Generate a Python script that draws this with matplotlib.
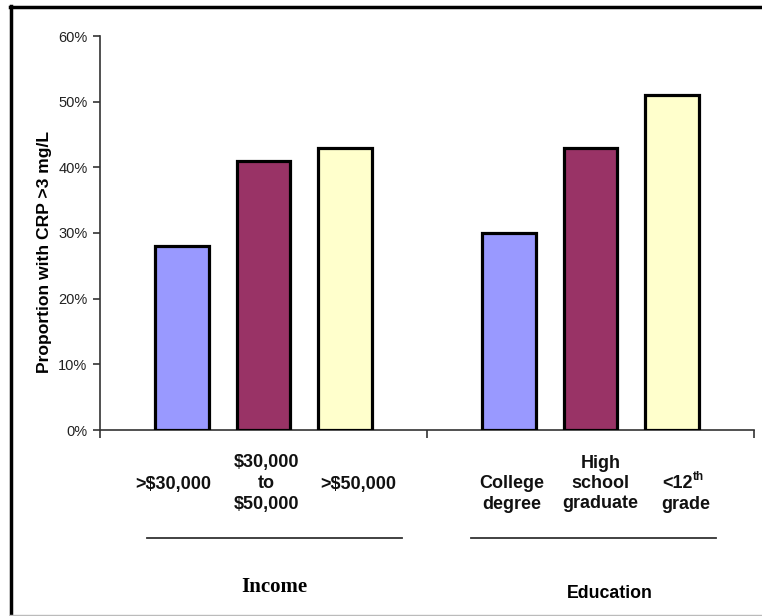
import matplotlib.pyplot as plt
from matplotlib.lines import Line2D
from matplotlib.transforms import blended_transform_factory

plt.rcParams['font.family'] = ['Liberation Sans', 'DejaVu Sans']

# Data
groups = ["Income", "Education"]
income_labels = [[">$30,000"], ["$30,000", "to", "$50,000"], [">$50,000"]]
education_labels = [["College", "degree"], ["High", "school", "graduate"], ["<12", "grade"]]
income_values = [28, 41, 43]
education_values = [30, 43, 51]
bar_colors = ["#9999FF", "#993366", "#FFFFCC"]
y_ticks = [0, 10, 20, 30, 40, 50, 60]

fig = plt.figure(figsize=(7.62, 6.16), dpi=100)
ax = fig.add_axes([100 / 762, 1 - 430 / 616, 654 / 762, 394 / 616])

offsets = [-0.25, 0.0, 0.25]
width = 0.165
for g, vals in enumerate([income_values, education_values]):
    for i, v in enumerate(vals):
        ax.bar(g + 0.5 + offsets[i], v, width=width, color=bar_colors[i],
               edgecolor="black", linewidth=2.3, zorder=3)

ax.set_xlim(0, 2)
ax.set_ylim(0, 60)
ax.set_yticks(y_ticks)
ax.set_yticklabels([f"{t}%" for t in y_ticks], fontsize=10.5, color="#222222")
ax.set_xticks([0, 1, 2])
ax.set_xticklabels([])
ax.tick_params(axis="x", direction="out", length=6, width=1.2, color="#333333")
ax.tick_params(axis="y", direction="out", length=5, width=1.2, color="#333333", pad=4)
for s in ["top", "right"]:
    ax.spines[s].set_visible(False)
for s in ["left", "bottom"]:
    ax.spines[s].set_linewidth(1.2)
    ax.spines[s].set_color("#333333")

# category labels, one line at a time
tr = blended_transform_factory(ax.transData, ax.transAxes)
def ypos(py):
    return (430 - py) / 394

label_dx = [[-0.277, 0.009, 0.289], [-0.242, 0.031, 0.29]]
first_line = [[484, 463, 484], [484, 463, 484]]
for g, labels in enumerate([income_labels, education_labels]):
    for i, lines in enumerate(labels):
        x = g + 0.5 + label_dx[g][i]
        for k, line in enumerate(lines):
            y = first_line[g][i] + 20.5 * k
            if line == "<12":
                ax.text(x + 0.022, ypos(y), line, transform=tr, ha="right", va="center",
                        fontsize=13, fontweight="bold", color="#111111")
                ax.text(x + 0.024, ypos(y - 7), "th", transform=tr, ha="left",
                        va="center", fontsize=8.5, fontweight="bold", color="#111111")
            else:
                ax.text(x, ypos(y), line, transform=tr, ha="center", va="center",
                        fontsize=13, fontweight="bold", color="#111111")

# group underlines
for x0, x1 in [(147, 402), (471, 716)]:
    fig.add_artist(Line2D([x0 / 762, x1 / 762], [1 - 538 / 616] * 2,
                          color="#333333", linewidth=1.3))

fig.text(274 / 762, 1 - 587 / 616, groups[0], ha="center", va="center",
         fontsize=15, fontweight="bold", family="Liberation Serif")
fig.text(610 / 762, 1 - 593 / 616, groups[1], ha="center", va="center",
         fontsize=12.8, fontweight="bold")

fig.text(45 / 762, 1 - 252 / 616, "Proportion with CRP >3 mg/L", rotation=90,
         ha="center", va="center", fontsize=12.6, fontweight="bold")

# outer frame
fig.add_artist(Line2D([11 / 762, 11 / 762], [0, 1 - 6 / 616], color="black", linewidth=2.5))
fig.add_artist(Line2D([10 / 762, 1], [1 - 7 / 616] * 2, color="black", linewidth=2.5))
fig.add_artist(Line2D([10 / 762, 1], [1 - 614.5 / 616] * 2, color="#bbbbbb", linewidth=1))

fig.savefig("out.png", dpi=100)
